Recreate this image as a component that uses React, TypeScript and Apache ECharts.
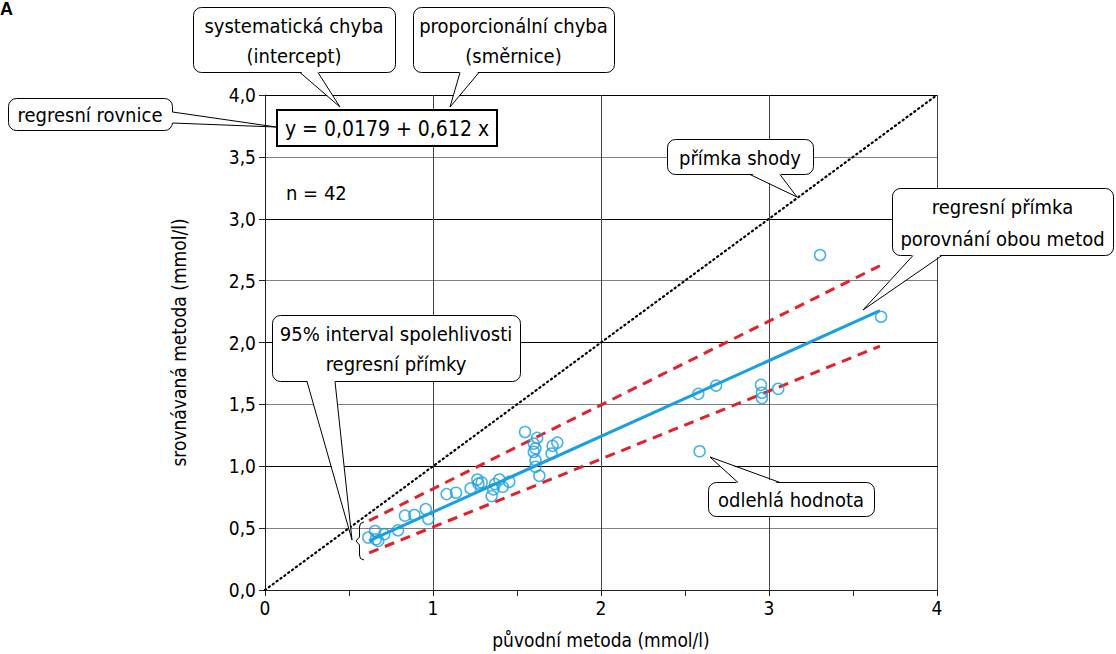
import React, { useEffect, useRef } from "react";
import * as echarts from "echarts";

const FONT = "'DejaVu Sans Condensed', 'DejaVu Sans', sans-serif";

// scatter data: [původní metoda, srovnávaná metoda]
const origValues = [
  0.615, 0.655, 0.674, 0.71, 0.792, 0.833, 0.889, 0.957, 0.972, 0.66,
  1.081, 1.137, 1.224, 1.264, 1.29, 1.349, 1.359, 1.369, 1.395, 1.415, 1.454, 1.27,
  1.548, 1.62, 1.60, 1.61, 1.60, 1.61, 1.61, 1.633, 1.712, 1.74, 1.706,
  2.579, 2.685, 2.952, 2.958, 2.958, 3.055,
  2.587, 3.304, 3.667,
];
const compValues = [
  0.424, 0.477, 0.397, 0.451, 0.483, 0.601, 0.606, 0.654, 0.574, 0.41,
  0.775, 0.786, 0.821, 0.893, 0.869, 0.759, 0.813, 0.856, 0.893, 0.834, 0.875, 0.86,
  1.277, 1.229, 1.183, 1.145, 1.116, 1.049, 0.996, 0.923, 1.165, 1.191, 1.103,
  1.585, 1.652, 1.658, 1.594, 1.551, 1.626,
  1.121, 2.707, 2.208,
];

const intercept = 0.0179;
const slope = 0.612;
const regressionRange = [0.62, 3.66];
const ciUpper = [[0.62, 0.56], [3.66, 2.62]];
const ciLower = [[0.62, 0.3], [3.66, 1.97]];
const identityLine = [[0, 0], [4, 4]];

const yTicks = [0, 0.5, 1, 1.5, 2, 2.5, 3, 3.5, 4];

function callout(
  box: { x: number; y: number; w: number; h: number },
  b1: number[],
  b2: number[],
  tip: number[],
  inset: number[],
  text: string,
  lineHeight: number
) {
  const c1 = [b1[0] + inset[0], b1[1] + inset[1]];
  const c2 = [b2[0] + inset[0], b2[1] + inset[1]];
  return [
    {
      type: "rect",
      z: 100,
      shape: { x: box.x + 0.5, y: box.y + 0.5, width: box.w, height: box.h, r: 8 },
      style: { fill: "#fff", stroke: "#000", lineWidth: 1 },
    },
    {
      type: "polygon",
      z: 101,
      shape: { points: [c1, tip, c2] },
      style: { fill: "#fff", stroke: null },
    },
    {
      type: "polyline",
      z: 102,
      shape: { points: [b1, tip, b2] },
      style: { stroke: "#000", lineWidth: 1, fill: null },
    },
    {
      type: "text",
      z: 103,
      x: box.x + box.w / 2,
      y: box.y + box.h / 2 + 1,
      style: {
        text,
        fill: "#000",
        font: `20px ${FONT}`,
        align: "center",
        verticalAlign: "middle",
        lineHeight,
      },
    },
  ];
}

export default function App() {
  const ref = useRef<HTMLDivElement>(null);
  useEffect(() => {
    if (!ref.current) return;
    const chart = echarts.init(ref.current, null, { renderer: "svg" });
    const scatterData = origValues.map((x, i) => [x, compValues[i]]);
    const regData = regressionRange.map((x) => [x, intercept + slope * x]);

    const graphics: any[] = [
      {
        type: "text",
        z: 100,
        x: 0,
        y: 0,
        style: {
          text: "A",
          font: `bold 18px 'Liberation Sans', Arial, sans-serif`,
          fill: "#000",
          verticalAlign: "top",
        },
      },
      ...callout({ x: 193, y: 7, w: 202, h: 65 }, [300, 72.5], [318, 72.5], [340, 107], [0, -1.5], "systematická chyba\n(intercept)", 30),
      ...callout({ x: 413, y: 7, w: 201, h: 65 }, [460, 72.5], [479, 72.5], [450, 107], [0, -1.5], "proporcionální chyba\n(směrnice)", 30),
      ...callout({ x: 8, y: 98, w: 164, h: 32 }, [172.5, 112], [172.5, 123], [276, 127], [-1.5, 0], "regresní rovnice", 22),
      ...callout({ x: 667, y: 139, w: 146, h: 35 }, [750, 174.5], [780, 174.5], [797, 197], [0, -1.5], "přímka shody", 22),
      ...callout({ x: 892, y: 188, w: 221, h: 67 }, [913, 255.5], [942, 255.5], [863, 310], [0, -1.5], "regresní přímka\nporovnání obou metod", 32),
      ...callout({ x: 272, y: 315, w: 248, h: 66 }, [307, 381.5], [335, 381.5], [352, 540], [0, -1.5], "95% interval spolehlivosti\nregresní přímky", 30),
      ...callout({ x: 708, y: 482, w: 166, h: 34 }, [738, 482.5], [780, 482.5], [710, 457], [0, 1.5], "odlehlá hodnota", 22),
      {
        type: "rect",
        z: 100,
        shape: { x: 277, y: 110, width: 220, height: 36 },
        style: { fill: "#fff", stroke: "#000", lineWidth: 2 },
      },
      {
        type: "text",
        z: 101,
        x: 387,
        y: 129,
        style: {
          text: "y = 0,0179 + 0,612 x",
          font: `21px ${FONT}`,
          fill: "#000",
          align: "center",
          verticalAlign: "middle",
        },
      },
      {
        type: "text",
        z: 101,
        x: 286,
        y: 193,
        style: { text: "n = 42", font: `20px ${FONT}`, fill: "#000", verticalAlign: "middle" },
      },
      {
        type: "polyline",
        z: 101,
        shape: {
          points: [
            [364, 522], [360.5, 523.5], [359.5, 527], [359.5, 537], [356, 541],
            [359.5, 545], [359.5, 555], [360.5, 558.5], [364, 560],
          ],
        },
        style: { stroke: "#000", lineWidth: 1, fill: null },
      },
    ];

    chart.setOption({
      animation: false,
      backgroundColor: "#fff",
      grid: { left: 265, right: 179, top: 95, bottom: 62, containLabel: false },
      xAxis: {
        type: "value",
        min: 0,
        max: 4,
        interval: 1,
        name: "původní metoda (mmol/l)",
        nameLocation: "middle",
        nameGap: 40,
        nameTextStyle: { fontFamily: FONT, fontSize: 19, color: "#000" },
        axisLine: { show: true, onZero: false, lineStyle: { color: "#222", width: 1 } },
        axisTick: { show: true, length: 6, lineStyle: { color: "#222" } },
        minorTick: { show: true, splitNumber: 2, length: 6, lineStyle: { color: "#222" } },
        axisLabel: { fontFamily: FONT, fontSize: 19, color: "#000", margin: 8 },
        splitLine: { show: true, lineStyle: { color: "#444", width: 1 } },
      },
      yAxis: {
        type: "value",
        min: 0,
        max: 4,
        interval: 0.5,
        name: "srovnávaná metoda (mmol/l)",
        nameLocation: "middle",
        nameGap: 77,
        nameRotate: 90,
        nameTextStyle: { fontFamily: FONT, fontSize: 19, color: "#000" },
        axisLine: { show: true, onZero: false, lineStyle: { color: "#222", width: 1 } },
        axisTick: { show: true, length: 6, lineStyle: { color: "#222" } },
        axisLabel: {
          fontFamily: FONT,
          fontSize: 19,
          color: "#000",
          margin: 9,
          formatter: (v: number) => {
            const t = yTicks.find((k) => Math.abs(k - v) < 1e-9);
            return (t ?? v).toFixed(1).replace(".", ",");
          },
        },
        splitLine: { show: true, lineStyle: { color: ["#000", "#808080"], width: 1 } },
      },
      graphic: graphics,
      series: [
        {
          type: "line",
          data: identityLine,
          symbol: "none",
          lineStyle: { color: "#000", width: 2.2, type: [1.2, 3.6], cap: "round" },
          z: 3,
        },
        {
          type: "line",
          data: ciUpper,
          symbol: "none",
          lineStyle: { color: "#e3202b", width: 3, type: [10, 7] },
          z: 4,
        },
        {
          type: "line",
          data: ciLower,
          symbol: "none",
          lineStyle: { color: "#e3202b", width: 3, type: [10, 7] },
          z: 4,
        },
        {
          type: "line",
          data: regData,
          symbol: "none",
          lineStyle: { color: "#1a9fe0", width: 3 },
          z: 5,
        },
        {
          type: "scatter",
          data: scatterData,
          symbol: "circle",
          symbolSize: 11,
          itemStyle: { color: "rgba(255,255,255,0)", borderColor: "#1a9fe0", borderWidth: 1.5 },
          z: 6,
        },
      ],
    });
    return () => chart.dispose();
  }, []);
  return <div ref={ref} style={{ width: 1116, height: 654, position: "absolute", left: 0, top: 0 }} />;
}
